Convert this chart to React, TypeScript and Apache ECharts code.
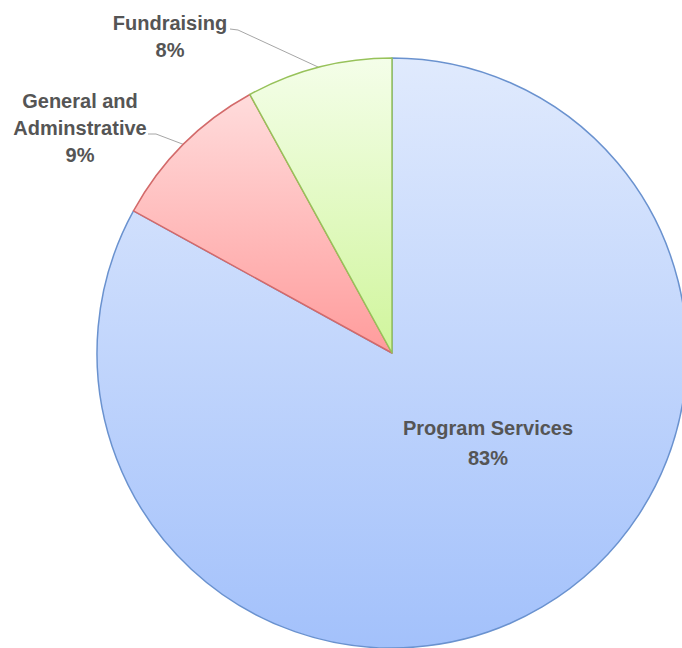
import React, { useEffect, useRef } from "react";
import * as echarts from "echarts";

const categories = ["Program Services", "General and\nAdminstrative", "Fundraising"];
const percentages = [83, 9, 8];
const topColors = ["#e0eafd", "#ffdcdc", "#f4fee9"];
const bottomColors = ["#a3c1fb", "#ff9c9c", "#d0f59c"];
const borderColors = ["#6a92cf", "#d36a6a", "#97c25a"];

export default function App() {
  const ref = useRef<HTMLDivElement>(null);
  useEffect(() => {
    if (!ref.current) return;
    const chart = echarts.init(ref.current, undefined, { renderer: "svg" });
    const labelText = {
      fontFamily: "Liberation Sans, Arial, sans-serif",
      fontWeight: "bold" as const,
      fontSize: 20,
      color: "#555555",
      overflow: "none" as const,
    };
    const data = categories.map((name, i) => ({
      name,
      value: percentages[i],
      itemStyle: {
        color: new echarts.graphic.LinearGradient(0, 0, 0, 1, [
          { offset: 0, color: topColors[i] },
          { offset: 1, color: bottomColors[i] },
        ]),
        borderColor: borderColors[i],
        borderWidth: 1.5,
      },
      label:
        i === 0
          ? { position: "inside" as const, lineHeight: 30, ...labelText }
          : { position: "outside" as const, lineHeight: 27, ...labelText },
      labelLine: i === 0 ? { show: false } : { show: true },
    }));
    chart.setOption({
      animation: false,
      backgroundColor: "#ffffff",
      series: [
        {
          type: "pie",
          center: [392, 353],
          radius: 295,
          startAngle: 90,
          clockwise: true,
          data,
          label: {
            show: true,
            formatter: "{b}\n{c}%",
            align: "center",
            overflow: "none",
          },
          labelLine: {
            show: true,
            smooth: false,
            lineStyle: { color: "#a6a6a6", width: 1 },
          },
          emphasis: { disabled: true },
          labelLayout: (params: any) => {
            const pts = params.labelLinePoints;
            if (params.dataIndex === 0) {
              return { x: 488, y: 443, align: "center", verticalAlign: "middle" };
            }
            if (params.dataIndex === 2) {
              return {
                x: 170,
                y: 36,
                align: "center",
                verticalAlign: "middle",
                labelLinePoints: pts ? [pts[0], [238, 30], [230, 29]] : undefined,
              };
            }
            return {
              x: 80,
              y: 128,
              align: "center",
              verticalAlign: "middle",
              labelLinePoints: pts ? [pts[0], [156, 134], [148, 134]] : undefined,
            };
          },
        },
      ],
    });
    return () => chart.dispose();
  }, []);
  return (
    <div
      ref={ref}
      style={{ position: "fixed", left: 0, top: 0, width: 682, height: 648 }}
    />
  );
}
